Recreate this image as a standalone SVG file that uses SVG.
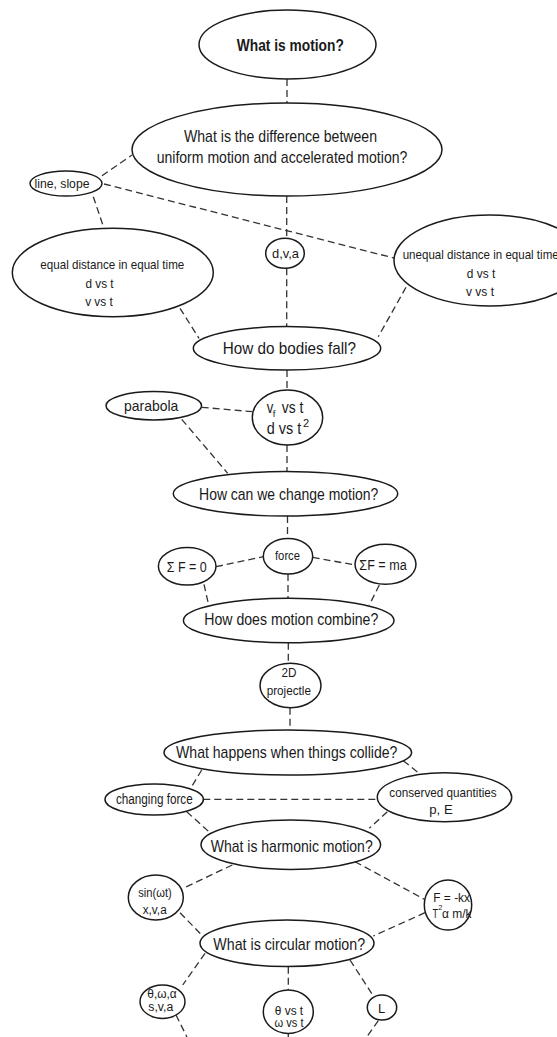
<svg xmlns="http://www.w3.org/2000/svg" width="557" height="1037" viewBox="0 0 557 1037">
<style>
.n ellipse{fill:#fff;stroke:#1a1a1a;stroke-width:1.5}
.c line{stroke:#333;stroke-width:1.3;stroke-dasharray:7 4;fill:none}
text{font-family:"Liberation Sans",Arial,sans-serif;fill:#1a1a1a}
.q{font-size:17px;text-anchor:middle}
.m{text-anchor:middle}
</style>
<rect width="557" height="1037" fill="#fff"/>
<g id="connectors" class="c">
<line x1="287" y1="79" x2="287" y2="103"/>
<line x1="102" y1="175.7" x2="132" y2="155"/>
<line x1="104" y1="184" x2="395" y2="258.3"/>
<line x1="93.3" y1="196.7" x2="104" y2="228.3"/>
<line x1="286.7" y1="196" x2="286.7" y2="238.3"/>
<line x1="286.7" y1="268.3" x2="286.7" y2="326.7"/>
<line x1="180" y1="308.3" x2="199" y2="338.3"/>
<line x1="406" y1="287.3" x2="378.3" y2="336.7"/>
<line x1="287" y1="370" x2="287" y2="390"/>
<line x1="201.7" y1="407.3" x2="252.3" y2="411.7"/>
<line x1="181.7" y1="419.3" x2="227.7" y2="473.3"/>
<line x1="287" y1="445" x2="287" y2="471.7"/>
<line x1="287.5" y1="516" x2="287.5" y2="538.3"/>
<line x1="216" y1="566.7" x2="263.3" y2="556.7"/>
<line x1="312.7" y1="557.3" x2="355" y2="565"/>
<line x1="204" y1="584.3" x2="208.3" y2="603.3"/>
<line x1="288" y1="574" x2="288" y2="598.3"/>
<line x1="379.3" y1="585" x2="369.3" y2="605"/>
<line x1="288.3" y1="642.7" x2="288.3" y2="663.3"/>
<line x1="290" y1="707.7" x2="290" y2="730"/>
<line x1="201.7" y1="770" x2="190.7" y2="788.3"/>
<line x1="403.3" y1="760.7" x2="418.3" y2="772.7"/>
<line x1="203.3" y1="799.3" x2="377.3" y2="799.3"/>
<line x1="186.7" y1="811.7" x2="210" y2="832.7"/>
<line x1="387.3" y1="811.7" x2="369.3" y2="828.3"/>
<line x1="232.3" y1="865" x2="183" y2="888.3"/>
<line x1="355" y1="861.7" x2="424.3" y2="899.3"/>
<line x1="180" y1="912.7" x2="201.7" y2="935"/>
<line x1="425" y1="912.7" x2="373.3" y2="936"/>
<line x1="205" y1="953.3" x2="182.7" y2="985"/>
<line x1="288.3" y1="966.7" x2="288.3" y2="990"/>
<line x1="350" y1="960" x2="372.7" y2="995"/>
<line x1="176" y1="1015" x2="187" y2="1037"/>
<line x1="288.3" y1="1033.3" x2="288.3" y2="1037"/>
<line x1="378.3" y1="1020.7" x2="366.7" y2="1037"/>
</g>
<g id="n1" class="n"><ellipse cx="287.5" cy="44.5" rx="88.5" ry="34.5"/><text class="q" x="290.3" y="51" font-weight="bold" textLength="107" lengthAdjust="spacingAndGlyphs">What is motion?</text></g>
<g id="n2" class="n"><ellipse cx="287" cy="149.5" rx="155" ry="46.5"/><text class="q" x="280.5" y="141.7" textLength="193" lengthAdjust="spacingAndGlyphs">What is the difference between</text><text class="q" x="282" y="163.3" textLength="250.7" lengthAdjust="spacingAndGlyphs">uniform motion and accelerated motion?</text></g>
<g id="n3" class="n"><ellipse cx="66" cy="183.5" rx="36" ry="12.5"/><text class="m" x="62" y="187.7" font-size="12.5" textLength="55" lengthAdjust="spacingAndGlyphs">line, slope</text></g>
<g id="n4" class="n"><ellipse cx="112.8" cy="272.5" rx="100.5" ry="44.2"/><text class="m" x="112.3" y="269.3" font-size="13.5" textLength="144" lengthAdjust="spacingAndGlyphs">equal distance in equal time</text><text class="m" x="99.5" y="288.3" font-size="13.5" textLength="28" lengthAdjust="spacingAndGlyphs">d vs t</text><text class="m" x="99" y="305.5" font-size="13.5" textLength="27.7" lengthAdjust="spacingAndGlyphs">v vs t</text></g>
<g id="n5" class="n"><ellipse cx="285" cy="253.3" rx="19.3" ry="15"/><text class="m" x="285.5" y="258" font-size="13" textLength="27" lengthAdjust="spacingAndGlyphs">d,v,a</text></g>
<g id="n6" class="n"><ellipse cx="490" cy="260.5" rx="96" ry="45.5"/><text x="402.7" y="259" font-size="13.5" textLength="156" lengthAdjust="spacingAndGlyphs">unequal distance in equal time</text><text class="m" x="481" y="278.3" font-size="13.5" textLength="28.4" lengthAdjust="spacingAndGlyphs">d vs t</text><text class="m" x="480" y="295.5" font-size="13.5" textLength="28" lengthAdjust="spacingAndGlyphs">v vs t</text></g>
<g id="n7" class="n"><ellipse cx="287" cy="348.3" rx="93.7" ry="21.7"/><text class="q" x="289.3" y="353.5" textLength="133.3" lengthAdjust="spacingAndGlyphs">How do bodies fall?</text></g>
<g id="n8" class="n"><ellipse cx="287.5" cy="417.5" rx="35.2" ry="27.5"/><text x="266.7" y="413.3" font-size="16" textLength="6.5" lengthAdjust="spacingAndGlyphs">v</text><text x="272.8" y="416.8" font-size="9.5">f</text><text x="281.7" y="413.3" font-size="16" textLength="21.6" lengthAdjust="spacingAndGlyphs">vs t</text><text x="266.7" y="433.5" font-size="16" textLength="34.5" lengthAdjust="spacingAndGlyphs">d vs t</text><text x="303" y="426.5" font-size="11">2</text></g>
<g id="n9" class="n"><ellipse cx="153.8" cy="405.8" rx="47.8" ry="14.2"/><text class="m" x="151.2" y="410.7" font-size="15" textLength="54.3" lengthAdjust="spacingAndGlyphs">parabola</text></g>
<g id="n10" class="n"><ellipse cx="285.5" cy="493.8" rx="112.2" ry="22.2"/><text class="q" x="288.7" y="500" textLength="179.3" lengthAdjust="spacingAndGlyphs">How can we change motion?</text></g>
<g id="n11" class="n"><ellipse cx="288" cy="556.2" rx="24.7" ry="17.8"/><text class="m" x="287.5" y="559.5" font-size="13" textLength="25" lengthAdjust="spacingAndGlyphs">force</text></g>
<g id="n12" class="n"><ellipse cx="187.2" cy="566.3" rx="28.8" ry="18.7"/><text class="m" x="186.7" y="571.7" font-size="15" textLength="40" lengthAdjust="spacingAndGlyphs">Σ F = 0</text></g>
<g id="n13" class="n"><ellipse cx="385.5" cy="564.3" rx="30.5" ry="20"/><text class="m" x="383" y="570" font-size="14" textLength="47.3" lengthAdjust="spacingAndGlyphs">ΣF = ma</text></g>
<g id="n14" class="n"><ellipse cx="288.7" cy="620.5" rx="105.3" ry="22.2"/><text class="q" x="291.3" y="625" textLength="174" lengthAdjust="spacingAndGlyphs">How does motion combine?</text></g>
<g id="n15" class="n"><ellipse cx="290.5" cy="685.5" rx="30.5" ry="22.2"/><text class="m" x="289" y="676.7" font-size="12.5" textLength="15" lengthAdjust="spacingAndGlyphs">2D</text><text class="m" x="288.8" y="695" font-size="12.5" textLength="44.3" lengthAdjust="spacingAndGlyphs">projectle</text></g>
<g id="n16" class="n"><ellipse cx="287.8" cy="752.5" rx="123.8" ry="22.5"/><text class="q" x="286.7" y="758.3" textLength="221.3" lengthAdjust="spacingAndGlyphs">What happens when things collide?</text></g>
<g id="n17" class="n"><ellipse cx="154.2" cy="799.5" rx="49.2" ry="15.5"/><text class="m" x="154.3" y="804" font-size="14" textLength="76.7" lengthAdjust="spacingAndGlyphs">changing force</text></g>
<g id="n18" class="n"><ellipse cx="444.5" cy="797.2" rx="67.2" ry="24.5"/><text class="m" x="443" y="797.3" font-size="13.5" textLength="107.3" lengthAdjust="spacingAndGlyphs">conserved quantities</text><text class="m" x="441" y="814" font-size="13.5" textLength="23.4" lengthAdjust="spacingAndGlyphs">p, E</text></g>
<g id="n19" class="n"><ellipse cx="290.8" cy="844.7" rx="89.8" ry="24.7"/><text class="q" x="291.7" y="851.7" textLength="162" lengthAdjust="spacingAndGlyphs">What is harmonic motion?</text></g>
<g id="n20" class="n"><ellipse cx="155.8" cy="897.5" rx="27.5" ry="22.5"/><text class="m" x="155" y="897.3" font-size="12.5" textLength="33.4" lengthAdjust="spacingAndGlyphs">sin(ωt)</text><text class="m" x="154.7" y="914" font-size="12.5" textLength="24" lengthAdjust="spacingAndGlyphs">x,v,a</text></g>
<g id="n21" class="n"><ellipse cx="448" cy="905" rx="23.7" ry="25"/><text x="433.3" y="901.7" font-size="13" textLength="36.7" lengthAdjust="spacingAndGlyphs">F = -kx</text><text x="432.5" y="918.3" font-size="13" textLength="5.5" lengthAdjust="spacingAndGlyphs">T</text><text x="438.2" y="910" font-size="7.5">2</text><text x="442" y="918.3" font-size="13" textLength="29.5" lengthAdjust="spacingAndGlyphs">α m/k</text></g>
<g id="n22" class="n"><ellipse cx="287" cy="943.3" rx="87" ry="23.3"/><text class="q" x="289.2" y="950" textLength="151.7" lengthAdjust="spacingAndGlyphs">What is circular motion?</text></g>
<g id="n23" class="n"><ellipse cx="162.5" cy="1001.7" rx="22.5" ry="16.7"/><text class="m" x="162" y="997.5" font-size="12.5" textLength="29.4" lengthAdjust="spacingAndGlyphs">θ,ω,α</text><text class="m" x="160.8" y="1010.7" font-size="12.5" textLength="25" lengthAdjust="spacingAndGlyphs">s,v,a</text></g>
<g id="n24" class="n"><ellipse cx="288.3" cy="1011.7" rx="25" ry="21.7"/><text class="m" x="289" y="1014.5" font-size="12.5" textLength="28.3" lengthAdjust="spacingAndGlyphs">θ vs t</text><text class="m" x="289" y="1027" font-size="12.5" textLength="29" lengthAdjust="spacingAndGlyphs">ω vs t</text></g>
<g id="n25" class="n"><ellipse cx="382" cy="1007.5" rx="14.7" ry="12.5"/><text class="m" x="381.7" y="1012.7" font-size="13">L</text></g>
</svg>
